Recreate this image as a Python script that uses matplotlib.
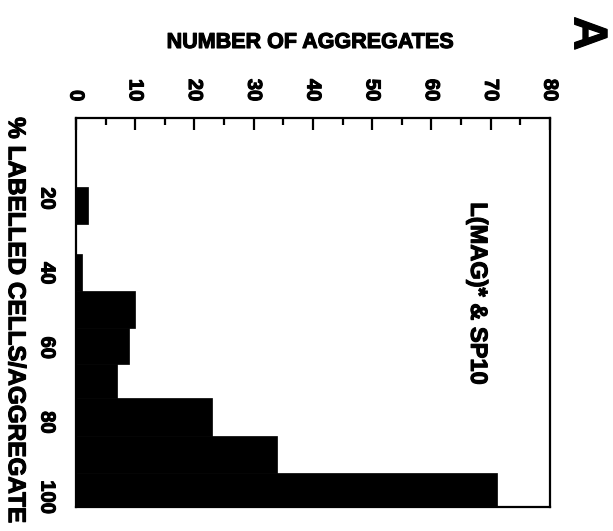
import matplotlib.pyplot as plt
import matplotlib.patheffects as pe
import numpy as np

# % labelled cells per aggregate: bin edges and number of aggregates in each bin
bin_lo = [17, 35, 44.8, 54.7, 64.3, 73.5, 83.6, 93.6]
bin_hi = [26.8, 44.8, 54.7, 64.3, 73.5, 83.6, 93.6, 102.7]
counts = [2, 1, 10, 9, 7, 23, 34, 71]

count_ticks = [0, 10, 20, 30, 40, 50, 60, 70, 80]
pct_ticks = [20, 40, 60, 80, 100]

plt.rcParams['font.family'] = ['Liberation Sans', 'DejaVu Sans']
plt.rcParams['font.weight'] = 'bold'

# thicken the glyphs a little, like a heavy typeset font
heavy = [pe.withStroke(linewidth=0.8, foreground='black')]

fig = plt.figure(figsize=(6.13, 5.31), dpi=100)
ax = fig.add_axes([0.124, 0.045, 0.773, 0.733])

lo = np.array(bin_lo)
hi = np.array(bin_hi)
ax.barh(lo, counts, height=hi - lo, align='edge', color='black', edgecolor='black', linewidth=0.5)

ax.set_xlim(0, 80)
ax.set_ylim(102.7, -1.6)

ax.xaxis.tick_top()
ax.set_xticks(count_ticks)
ax.set_xticks(np.arange(5, 80, 10), minor=True)
ax.set_xticklabels([str(t) for t in count_ticks], rotation=-90, fontsize=14.5, fontweight='bold')
ax.tick_params(axis='x', which='major', direction='in', length=8.5, width=1.6, pad=12)
ax.tick_params(axis='x', which='minor', direction='in', length=5, width=1.6)

ax.set_yticks(pct_ticks)
ax.set_yticklabels([str(t) for t in pct_ticks], rotation=-90, fontsize=14.5, fontweight='bold', va='center')
ax.tick_params(axis='y', length=0, pad=14)

for lab in ax.get_xticklabels() + ax.get_yticklabels():
    lab.set_path_effects(heavy)

for s in ax.spines.values():
    s.set_linewidth(1.6)

fig.text(0.505, 0.92, 'NUMBER OF AGGREGATES', ha='center', va='center', fontsize=15.5,
         fontweight='bold', path_effects=heavy)
fig.text(0.025, 0.398, '% LABELLED CELLS/AGGREGATE', rotation=-90, ha='center', va='center',
         fontsize=17.5, fontweight='bold', path_effects=heavy)
fig.text(0.957, 0.937, 'A', rotation=-90, ha='center', va='center', fontsize=34, fontweight='bold',
         path_effects=heavy)
ax.text(67.8, 45.5, 'L(MAG)* & SP10', rotation=-90, ha='center', va='center', fontsize=17,
        fontweight='bold', path_effects=heavy)

fig.savefig('out.png', dpi=100)
